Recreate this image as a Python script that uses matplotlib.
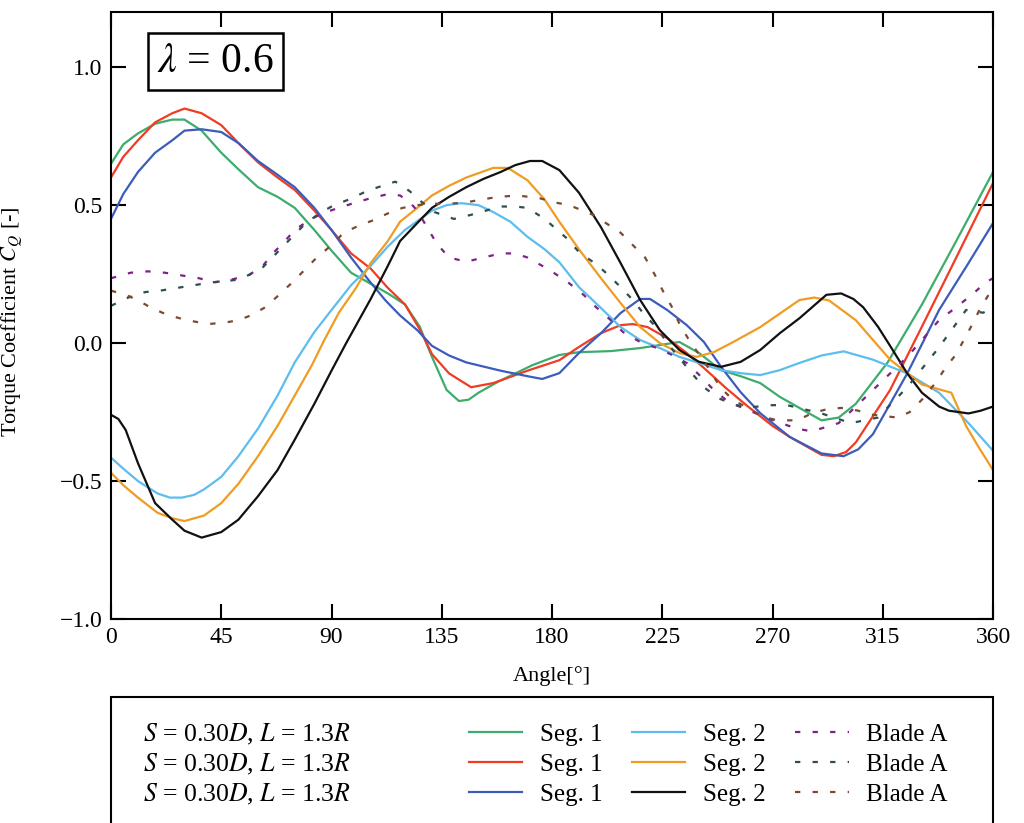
import matplotlib
matplotlib.use("Agg")
import matplotlib.pyplot as plt
from matplotlib.patches import Rectangle

plt.rcParams['font.family'] = ['Liberation Serif', 'DejaVu Serif']
plt.rcParams['mathtext.fontset'] = 'stix'

# --- data (angle in deg, torque coefficient) ---
angles_g = [0, 5, 11, 18, 25, 30, 37, 45, 52, 60, 68, 75, 83, 90, 98, 106, 113, 120, 126, 131,
            137, 142, 146, 150, 158, 165, 172, 183, 191, 204, 216, 224, 232, 240, 249, 257, 265, 273, 281, 290,
            297, 304, 317, 331, 345, 360]
values_g = [0.65, 0.72, 0.76, 0.795, 0.81, 0.81, 0.77, 0.69, 0.63, 0.565, 0.53, 0.49, 0.41, 0.335, 0.255, 0.215, 0.18, 0.14, 0.06, -0.05,
            -0.17, -0.21, -0.205, -0.18, -0.14, -0.11, -0.08, -0.043, -0.033, -0.029, -0.018, -0.007, 0.004, -0.036, -0.098, -0.12, -0.145, -0.195, -0.235, -0.28,
            -0.27, -0.22, -0.07, 0.14, 0.37, 0.62]

angles_r = [0, 5, 11, 18, 25, 30, 37, 45, 52, 60, 68, 75, 83, 90, 98, 106, 113, 120, 126, 131,
            138, 147, 156, 170, 183, 191, 200, 208, 213, 219, 227, 235, 243, 251, 260, 270, 277, 290, 295, 300,
            304, 318, 331, 345, 360]
values_r = [0.60, 0.675, 0.735, 0.80, 0.833, 0.85, 0.833, 0.79, 0.725, 0.655, 0.60, 0.555, 0.48, 0.41, 0.325, 0.27, 0.2, 0.14, 0.05, -0.04,
            -0.11, -0.16, -0.145, -0.10, -0.062, -0.014, 0.036, 0.065, 0.069, 0.058, 0.018, -0.036, -0.098, -0.163, -0.23, -0.30, -0.34, -0.405, -0.41, -0.395,
            -0.36, -0.17, 0.06, 0.31, 0.58]

angles_b = [0, 5, 11, 18, 25, 30, 37, 45, 52, 60, 68, 75, 83, 90, 98, 105, 112, 118, 125, 131,
            138, 145, 159, 170, 176, 183, 191, 200, 208, 216, 220, 227, 235, 242, 249, 257, 265, 277, 290, 299,
            305, 311, 318, 325, 338, 350, 360]
values_b = [0.45, 0.54, 0.62, 0.69, 0.735, 0.77, 0.775, 0.765, 0.725, 0.66, 0.61, 0.565, 0.49, 0.41, 0.31, 0.23, 0.155, 0.10, 0.047, -0.01,
            -0.045, -0.07, -0.10, -0.12, -0.13, -0.109, -0.036, 0.036, 0.109, 0.16, 0.16, 0.12, 0.065, 0.004, -0.086, -0.178, -0.254, -0.34, -0.40, -0.41,
            -0.385, -0.33, -0.22, -0.11, 0.12, 0.29, 0.435]

angles_lb = [0, 5, 11, 19, 24, 29, 34, 38, 45, 52, 60, 68, 75, 83, 90, 98, 106, 113, 120, 131,
             137, 143, 150, 156, 163, 170, 177, 183, 191, 200, 208, 216, 224, 232, 240, 249, 257, 265, 273, 281,
             290, 299, 311, 325, 338, 350, 360]
values_lb = [-0.415, -0.455, -0.50, -0.545, -0.56, -0.56, -0.55, -0.53, -0.485, -0.41, -0.31, -0.19, -0.07, 0.04, 0.12, 0.21, 0.28, 0.35, 0.41, 0.48,
             0.50, 0.507, 0.50, 0.475, 0.44, 0.385, 0.34, 0.293, 0.203, 0.127, 0.058, 0.011, -0.018, -0.05, -0.072, -0.098, -0.109, -0.116, -0.098, -0.072,
             -0.045, -0.03, -0.06, -0.11, -0.18, -0.29, -0.39]

angles_o = [0, 5, 11, 19, 25, 30, 38, 45, 52, 60, 68, 75, 82, 87, 93, 100, 106, 113, 118, 125,
            131, 138, 145, 156, 162, 170, 177, 183, 191, 200, 208, 216, 224, 232, 239, 246, 254, 265, 281, 287,
            293, 304, 318, 331, 335, 343, 349, 354, 360]
values_o = [-0.47, -0.515, -0.56, -0.615, -0.635, -0.645, -0.625, -0.58, -0.51, -0.41, -0.30, -0.19, -0.08, 0.01, 0.11, 0.20, 0.29, 0.37, 0.44, 0.49,
            0.535, 0.57, 0.60, 0.635, 0.635, 0.59, 0.52, 0.44, 0.34, 0.235, 0.145, 0.058, 0.0, -0.036, -0.05, -0.033, 0.004, 0.058, 0.156, 0.165,
            0.155, 0.083, -0.06, -0.15, -0.16, -0.18, -0.30, -0.375, -0.46]

angles_k = [0, 3, 6, 8.5, 11, 18, 25, 30, 37, 45, 52, 60, 68, 75, 83, 90, 96, 106, 113, 118,
            125, 131, 138, 145, 152, 159, 165, 171, 176, 183, 191, 200, 208, 216, 224, 232, 240, 249, 257, 265,
            273, 281, 292, 298, 303, 307, 313, 318, 325, 331, 338, 342, 350, 355, 360]
values_k = [-0.26, -0.275, -0.315, -0.375, -0.435, -0.58, -0.64, -0.68, -0.705, -0.685, -0.64, -0.555, -0.46, -0.35, -0.22, -0.10, 0.0, 0.16, 0.28, 0.37,
            0.435, 0.49, 0.53, 0.565, 0.595, 0.62, 0.645, 0.66, 0.66, 0.627, 0.545, 0.42, 0.29, 0.156, 0.047, -0.025, -0.068, -0.086, -0.068, -0.025,
            0.036, 0.09, 0.175, 0.18, 0.16, 0.13, 0.06, -0.01, -0.11, -0.18, -0.23, -0.245, -0.255, -0.245, -0.23]

angles_p = [0, 8, 15, 22, 29, 36, 42, 49, 56, 62, 66, 70, 75, 80, 86, 93, 100, 106, 113, 118,
            122, 125, 129, 133, 138, 145, 152, 159, 165, 170, 179, 187, 193, 198, 204, 209, 216, 223, 229, 235,
            241, 246, 252, 260, 272, 280, 286, 297, 304, 311, 318, 325, 338, 345, 352, 357, 360]
values_p = [0.235, 0.255, 0.26, 0.255, 0.245, 0.235, 0.22, 0.23, 0.245, 0.28, 0.325, 0.36, 0.41, 0.44, 0.47, 0.49, 0.51, 0.525, 0.54, 0.535,
            0.51, 0.48, 0.42, 0.36, 0.31, 0.295, 0.31, 0.325, 0.325, 0.31, 0.265, 0.217, 0.174, 0.13, 0.083, 0.04, 0.004, -0.018, -0.043, -0.072,
            -0.123, -0.17, -0.213, -0.243, -0.286, -0.31, -0.32, -0.29, -0.23, -0.17, -0.11, -0.05, 0.083, 0.13, 0.18, 0.22, 0.235]

angles_s = [0, 7, 14, 20, 27, 34, 41, 47, 52, 57, 62, 68, 74, 79, 85, 91, 97, 103, 109, 116,
            118, 122, 127, 132, 140, 147, 153, 159, 165, 170, 177, 186, 191, 198, 203, 208, 213, 218, 223, 227,
            232, 237, 242, 248, 255, 262, 269, 276, 290, 302, 313, 325, 338, 349, 356, 360]
values_s = [0.135, 0.165, 0.185, 0.19, 0.2, 0.21, 0.22, 0.225, 0.23, 0.25, 0.275, 0.33, 0.385, 0.43, 0.47, 0.5, 0.52, 0.545, 0.565, 0.585,
            0.575, 0.55, 0.51, 0.475, 0.45, 0.465, 0.48, 0.495, 0.495, 0.49, 0.45, 0.38, 0.33, 0.286, 0.247, 0.203, 0.156, 0.10, 0.054, 0.0,
            -0.054, -0.109, -0.16, -0.2, -0.225, -0.232, -0.225, -0.225, -0.255, -0.29, -0.27, -0.16, -0.015, 0.12, 0.11, 0.13]

angles_br = [0, 6, 11, 16, 21, 26, 31, 36, 41, 47, 52, 57, 63, 68, 74, 79, 84, 90, 95, 101,
             107, 113, 119, 125, 131, 138, 145, 151, 158, 166, 175, 181, 187, 197, 208, 213, 218, 222, 225.5, 229,
             232, 236, 244.5, 248.6, 254, 260, 266, 272, 280, 286, 292, 298, 305, 311, 316, 321, 326, 331, 336, 341,
             345, 348, 352, 355, 360]
values_br = [0.19, 0.175, 0.155, 0.13, 0.11, 0.095, 0.083, 0.075, 0.07, 0.075, 0.083, 0.10, 0.13, 0.17, 0.22, 0.265, 0.31, 0.355, 0.40, 0.425,
             0.445, 0.47, 0.49, 0.50, 0.505, 0.505, 0.51, 0.52, 0.53, 0.535, 0.525, 0.51, 0.50, 0.464, 0.40, 0.355, 0.31, 0.247, 0.185, 0.13,
             0.07, 0.01, -0.098, -0.16, -0.207, -0.235, -0.267, -0.28, -0.28, -0.255, -0.24, -0.235, -0.245, -0.26, -0.265, -0.27, -0.25, -0.205, -0.15, -0.085,
             -0.04, 0.01, 0.075, 0.13, 0.2]

case_label = r'$S$ = 0.30$D$, $L$ = 1.3$R$'
x_ticks = [0, 45, 90, 135, 180, 225, 270, 315, 360]
y_ticks = [-1.0, -0.5, 0.0, 0.5, 1.0]

dash = (0, (2.4, 5.5))
series = [
    (angles_g, values_g, '#3cad6c', '-', 'Seg. 1'),
    (angles_r, values_r, '#f03c24', '-', 'Seg. 1'),
    (angles_b, values_b, '#3b5cbb', '-', 'Seg. 1'),
    (angles_lb, values_lb, '#5cbdee', '-', 'Seg. 2'),
    (angles_o, values_o, '#f09c22', '-', 'Seg. 2'),
    (angles_k, values_k, '#111111', '-', 'Seg. 2'),
    (angles_p, values_p, '#7d2388', dash, 'Blade A'),
    (angles_s, values_s, '#2f4f4f', dash, 'Blade A'),
    (angles_br, values_br, '#7b4a36', dash, 'Blade A'),
]

fig = plt.figure(figsize=(10.24, 8.23), dpi=100)
ax = fig.add_axes([111 / 1024, 1 - 619 / 823, 882 / 1024, 607 / 823])

handles = []
for xs, ys, col, ls, lab in series:
    ln, = ax.plot(xs, ys, color=col, linestyle=ls, linewidth=1.6, label=lab)
    handles.append(ln)

ax.set_xlim(0, 360)
ax.set_ylim(-1.0, 1.2)
ax.set_xticks(x_ticks)
ax.set_yticks(y_ticks)
ax.set_yticklabels([f'{v:.1f}'.replace('-', '\u2212') for v in y_ticks])
ax.tick_params(direction='in', length=11, width=1.5, top=True, right=True,
               labelsize=17, pad=6)
for sp in ax.spines.values():
    sp.set_linewidth(1.5)

ax.set_xlabel('Angle[°]', fontsize=16)
ax.xaxis.set_label_coords(0.5, -0.078)
ax.set_ylabel(r'Torque Coefficient $C_Q$ [-]', fontsize=16)
ax.yaxis.set_label_coords(-0.097, 0.49)

ax.text(0.118, 0.918, r'$\lambda$ = 0.6', transform=ax.transAxes, fontsize=30,
        ha='center', va='center',
        bbox=dict(boxstyle='square,pad=0.22', fc='white', ec='black', lw=1.8))

# legend frame below the plot
fig.patches.append(Rectangle((111 / 1024, -0.02), 882 / 1024, 1 - 697 / 823 + 0.02,
                             transform=fig.transFigure, fill=False, ec='black', lw=1.5))
for i in range(3):
    fig.text(143 / 1024, 1 - (734 + 30 * i) / 823, case_label, fontsize=18.5,
             ha='left', va='center')

fig.legend(handles, [h.get_label() for h in handles], ncol=3, loc='upper left',
           bbox_to_anchor=(456 / 1024, 1 - 711 / 823), frameon=False, fontsize=18,
           handlelength=2.15, handletextpad=0.72, columnspacing=1.15,
           labelspacing=0.3, borderpad=0)

fig.savefig('out.png', dpi=100)
